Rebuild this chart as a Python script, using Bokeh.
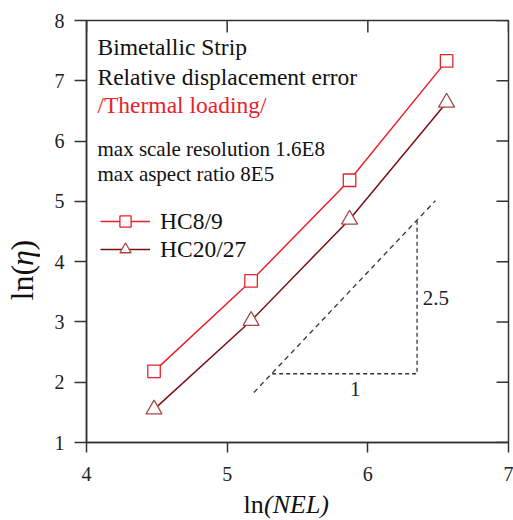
from math import pi
from bokeh.plotting import figure
from bokeh.layouts import row, column
from bokeh.models import Range1d, Label, Legend, LegendItem, FixedTicker
from bokeh.core.properties import value
from bokeh.embed import file_html
from bokeh.resources import INLINE

# ---- data ----
ln_nel = [4.48, 5.17, 5.87, 6.56]
hc8_9 = [2.18, 3.68, 5.35, 7.33]
hc20_27 = [1.55, 3.02, 4.70, 6.64]
series_names = ["HC8/9", "HC20/27"]
x_ticks = [4, 5, 6, 7]
y_ticks = [1, 2, 3, 4, 5, 6, 7, 8]
slope_line_x = [5.19, 6.48]
slope_line_y = [1.83, 5.01]
slope_tri_x = [5.32, 6.35, 6.35]
slope_tri_y = [2.14, 2.14, 4.70]
info_lines = ["Bimetallic Strip", "Relative displacement error", "/Thermal loading/"]
spec_lines = ["max scale resolution 1.6E8", "max aspect ratio 8E5"]
x_title_parts = ["ln", "(NEL)"]
y_title_parts = ["ln(", "η", ")"]

FONT = "Liberation Serif"
AX = "#333333"
TXT = "#111111"
RED = "#e8212b"
DARK = "#7a1013"
DARK_MK = "#a84646"
FW, FH = 422, 422
X0, X1, Y0, Y1 = 4, 7, 1, 8
YL_W = 40          # width of the y-title strip
XL_H = 33          # height of the x-title strip
P_BOTTOM = 44
TOTAL_W = 513

p = figure(frame_width=FW, frame_height=FH,
           x_range=Range1d(X0, X1), y_range=Range1d(Y0, Y1),
           output_backend="svg", toolbar_location=None,
           min_border_left=86 - YL_W, min_border_top=20,
           min_border_right=5, min_border_bottom=P_BOTTOM)
p.grid.visible = False
p.outline_line_color = AX
p.outline_line_width = 1.5
p.background_fill_color = "white"
p.border_fill_color = "white"

def style(ax, tick_in, tick_out, standoff):
    ax.axis_line_color = AX
    ax.axis_line_width = 1.5
    ax.major_tick_line_color = AX
    ax.major_tick_line_width = 1.5
    ax.minor_tick_line_color = None
    ax.major_tick_in = tick_in
    ax.major_tick_out = tick_out
    ax.major_label_standoff = standoff
    ax.major_label_text_font = FONT
    ax.major_label_text_color = "#222222"
    ax.major_label_text_font_size = "20px"

p.xaxis.ticker = FixedTicker(ticks=x_ticks)
p.yaxis.ticker = FixedTicker(ticks=y_ticks)
style(p.xaxis[0], 0, 10, 14)
style(p.yaxis[0], 0, 12, 10)

# inward ticks on top and right frame edges (12 px long)
dy_tick = 12 * (Y1 - Y0) / FH
dx_tick = 12 * (X1 - X0) / FW
p.segment(x0=x_ticks, y0=[Y1] * len(x_ticks), x1=x_ticks, y1=[Y1 - dy_tick] * len(x_ticks),
          line_color=AX, line_width=1.5)
p.segment(x0=[X1] * len(y_ticks), y0=y_ticks, x1=[X1 - dx_tick] * len(y_ticks), y1=y_ticks,
          line_color=AX, line_width=1.5)

# series
l1 = p.line(ln_nel, hc8_9, line_color=RED, line_width=1.5)
s1 = p.scatter(ln_nel, hc8_9, marker="square", size=12.5, line_color=RED,
               fill_color="white", line_width=1.3)
l2 = p.line(ln_nel, hc20_27, line_color=DARK, line_width=1.5)
s2 = p.scatter(ln_nel, hc20_27, marker="triangle", size=16, line_color=DARK_MK,
               fill_color="white", line_width=1.3)

# slope triangle
p.line(slope_line_x, slope_line_y, line_color="#333333", line_width=1.3, line_dash="5 4")
p.line(slope_tri_x, slope_tri_y, line_color="#333333", line_width=1.3, line_dash="4 3")
p.add_layout(Label(x=5.91, y=1.88, text="1", text_font=FONT, text_font_size="21px",
                   text_align="center", text_baseline="middle", text_color="#222222"))
p.add_layout(Label(x=6.39, y=3.40, text="2.5", text_font=FONT, text_font_size="21px",
                   text_align="left", text_baseline="middle", text_color="#222222"))

# text block
info_y = [7.567, 7.07, 6.605]
info_col = [TXT, TXT, RED]
for t, yy, c in zip(info_lines, info_y, info_col):
    p.add_layout(Label(x=4.078, y=yy, text=t, text_font=FONT, text_font_size="23.5px",
                       text_align="left", text_baseline="middle", text_color=c))
spec_y = [5.876, 5.461]
for t, yy in zip(spec_lines, spec_y):
    p.add_layout(Label(x=4.078, y=yy, text=t, text_font=FONT, text_font_size="21px",
                       text_align="left", text_baseline="middle", text_color=TXT))

legend = Legend(items=[LegendItem(label=series_names[0], renderers=[l1, s1]),
                       LegendItem(label=series_names[1], renderers=[l2, s2])],
                location=(14, 179), glyph_width=50, glyph_height=28, label_height=28,
                spacing=0, padding=0, margin=0, label_standoff=10,
                label_text_font=FONT, label_text_font_size="23.5px",
                label_text_color=TXT,
                background_fill_alpha=0, border_line_color=None)
p.add_layout(legend)

P_H = 20 + FH + P_BOTTOM

def strip(w, h):
    f = figure(frame_width=w, frame_height=h, x_range=Range1d(0, w), y_range=Range1d(0, h),
               output_backend="svg", toolbar_location=None, min_border=0,
               x_axis_location=None, y_axis_location=None)
    f.grid.visible = False
    f.outline_line_color = None
    f.background_fill_color = "white"
    f.border_fill_color = "white"
    return f

# x title strip spans the full width (pixel coordinates inside the strip)
xf = strip(TOTAL_W, XL_H)
x_start = 243
x_mid = XL_H - 18
xf.text(x=[x_start], y=[x_mid], text=[x_title_parts[0]], text_font=value(FONT),
        text_font_size="26px", text_color=TXT, text_align="left", text_baseline="middle")
xf.text(x=[x_start + 20.5], y=[x_mid], text=[x_title_parts[1]], text_font=value(FONT),
        text_font_size="26px", text_font_style="italic", text_color=TXT,
        text_align="left", text_baseline="middle")

# y title strip
yf = strip(YL_W, P_H)
y_base = P_H - 280
yx = 21
yf.text(x=[yx], y=[y_base], text=[y_title_parts[0]], text_font=value(FONT),
        text_font_size="32px", text_color=TXT, angle=pi / 2,
        text_align="left", text_baseline="middle")
yf.text(x=[yx], y=[y_base + 34.5], text=[y_title_parts[1]], text_font=value(FONT),
        text_font_size="32px", text_font_style="italic", text_color=TXT, angle=pi / 2,
        text_align="left", text_baseline="middle")
yf.text(x=[yx], y=[y_base + 50], text=[y_title_parts[2]], text_font=value(FONT),
        text_font_size="32px", text_color=TXT, angle=pi / 2,
        text_align="left", text_baseline="middle")

layout = column(row(yf, p, spacing=0), xf, spacing=0)
open("out.html", "w").write(file_html(layout, INLINE))
